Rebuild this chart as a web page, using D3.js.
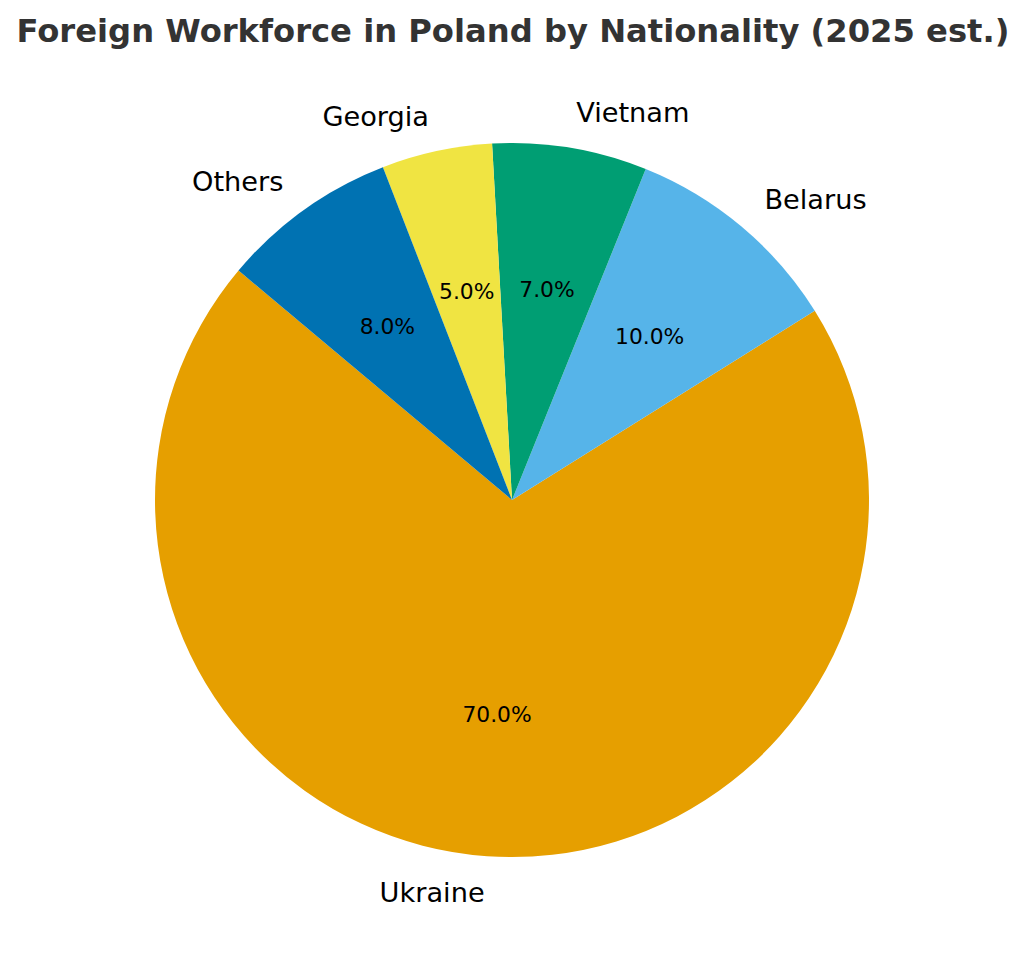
<!DOCTYPE html>
<html>
<head>
<meta charset="utf-8">
<script src="https://cdn.jsdelivr.net/npm/d3@7"></script>
<style>
html,body{margin:0;padding:0;background:#fff;}
svg{display:block;font-family:"DejaVu Sans",sans-serif;}
</style>
</head>
<body>
<svg id="chart" width="1024" height="964"></svg>
<script>
const categories = ["Ukraine", "Belarus", "Vietnam", "Georgia", "Others"];
const values = [70, 10, 7, 5, 8];
const colors = ["#E69F00", "#56B4E9", "#009E73", "#F0E442", "#0072B2"];
const title = "Foreign Workforce in Poland by Nationality (2025 est.)";

const W = 1024, H = 964;
const cx = 512, cy = 500, R = 357;
const startDeg = 140; // matplotlib startangle, counterclockwise

const svg = d3.select("#chart");
svg.append("rect").attr("width", W).attr("height", H).attr("fill", "#fff");

svg.append("text")
  .attr("x", 513).attr("y", 42)
  .attr("text-anchor", "middle")
  .attr("font-weight", "bold")
  .attr("font-size", 32.2)
  .attr("fill", "#333333")
  .text(title);

const data = categories.map((c, i) => ({ name: c, value: values[i], color: colors[i] }));
const toRad = d => d * Math.PI / 180;
const d3Start = toRad(90 - startDeg);
const pie = d3.pie().value(d => d.value).sort(null)
  .startAngle(d3Start).endAngle(d3Start - 2 * Math.PI);
const arcs = pie(data);
const arc = d3.arc().innerRadius(0).outerRadius(R);

const g = svg.append("g").attr("transform", `translate(${cx},${cy})`);
g.selectAll("path.slice").data(arcs).enter().append("path")
  .attr("class", "slice")
  .attr("d", arc)
  .attr("fill", d => d.data.color);

const total = d3.sum(values);
function pos(d, frac) {
  const a = (d.startAngle + d.endAngle) / 2; // d3 angle: 0 at top, clockwise
  return [Math.sin(a) * R * frac, -Math.cos(a) * R * frac];
}

g.selectAll("text.pct").data(arcs).enter().append("text")
  .attr("class", "pct")
  .attr("x", d => pos(d, 0.6)[0])
  .attr("y", d => pos(d, 0.6)[1])
  .attr("text-anchor", "middle")
  .attr("dy", "0.36em")
  .attr("font-size", 21.8)
  .attr("fill", "#000")
  .text(d => (d.data.value / total * 100).toFixed(1) + "%");

g.selectAll("text.lbl").data(arcs).enter().append("text")
  .attr("class", "lbl")
  .attr("x", d => pos(d, 1.1)[0])
  .attr("y", d => pos(d, 1.1)[1])
  .attr("text-anchor", d => pos(d, 1.1)[0] > 0 ? "start" : "end")
  .attr("dy", "0.36em")
  .attr("font-size", 27.2)
  .attr("fill", "#000")
  .text(d => d.data.name);
</script>
</body>
</html>
